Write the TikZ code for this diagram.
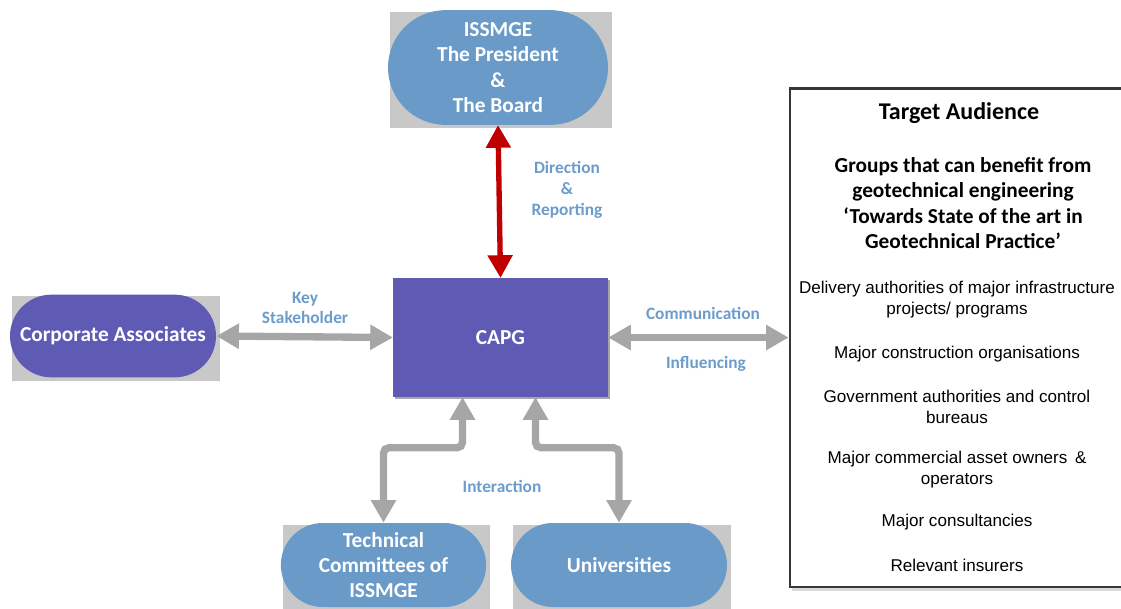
\documentclass[tikz,border=0pt]{standalone}
\usepackage{fontspec}
\setmainfont{Carlito}
\newfontfamily\listfont{Liberation Sans}
\definecolor{capblue}{RGB}{106,155,200}
\definecolor{cappurple}{RGB}{95,91,181}
\definecolor{caplabel}{RGB}{107,156,203}
\definecolor{capback}{RGB}{200,200,200}
\definecolor{capgray}{RGB}{166,166,166}
\definecolor{capred}{RGB}{192,0,0}
\definecolor{capframe}{RGB}{55,55,55}
\usetikzlibrary{arrows.meta,positioning,shapes.misc,calc,backgrounds}

\begin{document}
\begin{tikzpicture}[x=0.75pt,y=-0.75pt,
  pill/.style={rounded rectangle,inner sep=0pt,text=white,align=center,
    font=\bfseries\fontsize{16}{19}\selectfont},
  mainbox/.style={rectangle,fill=cappurple,text=white,inner sep=0pt,
    minimum width=161pt,minimum height=89pt,font=\bfseries\fontsize{16}{19}\selectfont},
  lbl/.style={font=\bfseries\fontsize{13}{15.6}\selectfont,text=caplabel,align=center},
  item/.style={font=\listfont\fontsize{12.8}{15.75}\selectfont,align=center},
  garr/.style={draw=capgray,line width=5.5pt,rounded corners=4pt,
    {Triangle[width=18pt,length=17pt]}-{Triangle[width=18pt,length=17pt]}},
  rarr/.style={draw=capred,line width=4pt,
    {Triangle[width=18pt,length=17pt]}-{Triangle[width=18pt,length=17pt]}}
]
  \useasboundingbox (0,0) rectangle (1121,608);

  % Board at the top
  \node[pill,fill=capblue,minimum width=165pt,minimum height=86pt] (board) at (498,67.5)
    {ISSMGE\\The President\\\&\\The Board};

  % CAPG in the middle
  \node[mainbox] (capg) at (500.5,337.5) {CAPG};

  % partners round it
  \node[pill,fill=cappurple,minimum width=154.5pt,minimum height=62pt] (corp) at (113,336)
    {Corporate Associates};
  \node[pill,fill=capblue,minimum width=154pt,minimum height=63pt] (tech) at (383.5,565)
    {Technical\\Committees of\\ISSMGE};
  \node[pill,fill=capblue,minimum width=162pt,minimum height=63pt] (univ) at (619,565)
    {Universities};

  % Target audience panel
  \node[draw=capframe,fill=white,line width=2pt,minimum width=250.5pt,minimum height=374pt,
    inner sep=0pt] (aud) at (957,337.5) {};
  \node[font=\bfseries\fontsize{18}{21}\selectfont] (audtitle) at (959,113) {Target Audience};
  \node[font=\bfseries\fontsize{16}{19}\selectfont,align=center] (audsub) at (963,203)
    {Groups that can benefit from\\geotechnical engineering\\
     `Towards State of the art in\\Geotechnical Practice'};
  \node[item] (a1) at (957,300) {Delivery authorities of major infrastructure\\projects/ programs};
  \node[item] (a2) at (957,354) {Major construction organisations};
  \node[item] (a3) at (957,406.5) {Government authorities and control\\bureaus};
  \node[item] (a4) at (957,469.5) {Major commercial asset owners \,\&\\operators};
  \node[item] (a5) at (957,522) {Major consultancies};
  \node[item] (a6) at (957,565) {Relevant insurers};

  % grey backing plates and shadows
  \begin{pgfonlayer}{background}
    \foreach \n in {board,corp,tech,univ}
      \fill[capback] ($(\n.west |- \n.north)+(2,2)$) rectangle ($(\n.east |- \n.south)+(4,3)$);
    \fill[gray!70] ($(capg.north west)+(2,2)$) rectangle ($(capg.south east)+(2,2)$);
    \fill[gray!30] ($(aud.north west)+(3,3)$) rectangle ($(aud.south east)+(3,3)$);
  \end{pgfonlayer}

  % Arrows
  \draw[rarr] (board.south) -- (capg.north);
  \draw[garr] (corp.east) -- (capg.west);
  \draw[garr] (capg.east) -- (aud.west);
  \draw[garr] ($(capg.south)+(-38,0)$) |- ($(tech.north)+(0,-75)$) -- (tech.north);
  \draw[garr] ($(capg.south)+(35,0)$) |- ($(univ.north)+(0,-75)$) -- (univ.north);

  % Arrow labels
  \node[lbl] (dirlbl) at (567,190) {Direction\\\&\\Reporting};
  \node[lbl] (keylbl) at (305,308) {Key\\Stakeholder};
  \node[lbl] (comlbl) at (703,313) {Communication};
  \node[lbl] (inflbl) at (706,364) {Influencing};
  \node[lbl] (intlbl) at (502,486) {Interaction};
\end{tikzpicture}
\end{document}
